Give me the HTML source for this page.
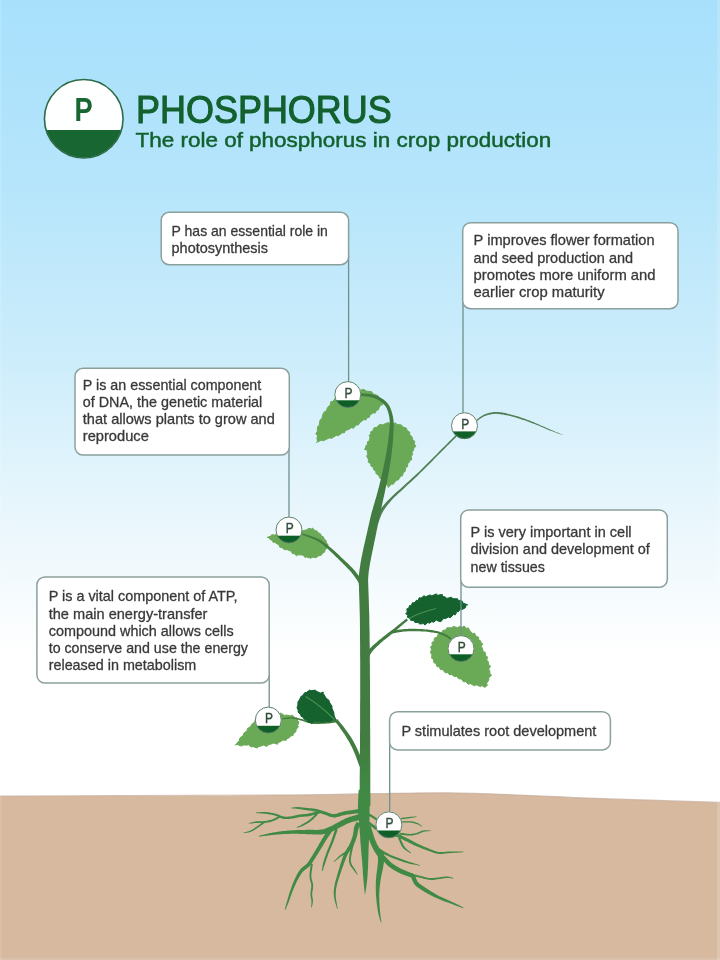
<!DOCTYPE html>
<html><head><meta charset="utf-8"><title>Phosphorus</title>
<style>
html,body{margin:0;padding:0;background:#fff;}
body{width:720px;height:960px;overflow:hidden;font-family:"Liberation Sans",sans-serif;}
svg{display:block;font-family:"Liberation Sans",sans-serif;}
</style></head><body>
<svg width="720" height="960" viewBox="0 0 720 960">
<defs>
<linearGradient id="sky" gradientUnits="userSpaceOnUse" x1="0" y1="0" x2="0" y2="820">
<stop offset="0" stop-color="#a8e0fc"/>
<stop offset="0.22" stop-color="#b5e5fb"/>
<stop offset="0.44" stop-color="#cdedfb"/>
<stop offset="0.60" stop-color="#e5f5fc"/>
<stop offset="0.69" stop-color="#f1f9fd"/>
<stop offset="0.76" stop-color="#fafdfe"/>
<stop offset="0.80" stop-color="#ffffff"/>
<stop offset="1" stop-color="#ffffff"/>
</linearGradient>
</defs>
<rect x="0" y="0" width="720" height="820" fill="url(#sky)"/>
<path d="M0,796 C120,795.8 230,795.6 310,794.8 C370,794 410,792.6 445,792.8 C490,793.2 540,796 580,797.8 C630,799.8 680,801.2 720,802.4 L720,960 L0,960Z" fill="#d6b99f"/>
<path d="M0,796 C120,795.8 230,795.6 310,794.8 C370,794 410,792.6 445,792.8 C490,793.2 540,796 580,797.8 C630,799.8 680,801.2 720,802.4" fill="none" stroke="#c4ad9c" stroke-width="1.2" opacity="0.7"/>
<rect x="717" y="0" width="3" height="960" fill="#fff" opacity="0.16"/><rect x="0" y="0" width="1.5" height="960" fill="#fff" opacity="0.14"/><rect x="0" y="958" width="720" height="2" fill="#fff" opacity="0.14"/>
<defs><filter id="bl" x="-2%" y="-2%" width="104%" height="104%"><feGaussianBlur stdDeviation="0.45"/></filter></defs>
<g filter="url(#bl)">
<path d="M358.7,789.8 L358.6,791.1 L358.5,792.7 L358.4,794.6 L358.3,796.8 L358.2,799.1 L358.1,801.5 L358.0,803.8 L358.0,806.0 L358.0,808.1 L358.1,810.2 L358.2,812.2 L358.4,814.3 L358.5,816.3 L358.7,818.3 L358.9,820.3 L359.0,822.1 L359.1,824.0 L359.3,825.8 L359.4,827.6 L359.6,829.3 L359.7,831.1 L359.8,832.7 L360.0,834.4 L360.1,836.1 L360.2,837.8 L360.3,839.4 L360.4,841.0 L360.5,842.6 L360.6,844.2 L360.8,845.8 L360.9,847.5 L361.0,849.1 L361.1,850.7 L361.3,852.3 L361.4,854.0 L361.6,855.6 L361.8,857.2 L361.9,858.8 L362.1,860.4 L362.2,862.1 L362.3,863.8 L362.4,865.6 L362.6,867.4 L362.7,869.2 L362.8,871.0 L362.9,872.8 L363.0,874.4 L363.1,876.0 L363.2,877.4 L363.3,878.8 L363.4,880.1 L363.6,881.4 L363.7,882.6 L363.8,883.7 L363.9,884.9 L364.0,886.0 L364.1,887.1 L364.2,888.3 L364.3,889.5 L364.5,890.6 L364.6,891.7 L364.7,892.6 L364.7,893.4 L364.8,894.0 L365.2,894.0 L365.3,893.4 L365.4,892.6 L365.6,891.7 L365.7,890.6 L365.9,889.5 L366.1,888.3 L366.2,887.2 L366.4,886.0 L366.5,884.9 L366.7,883.8 L366.8,882.6 L367.0,881.4 L367.1,880.1 L367.3,878.8 L367.4,877.5 L367.5,876.0 L367.6,874.4 L367.7,872.8 L367.8,871.0 L367.9,869.2 L368.0,867.3 L368.1,865.5 L368.1,863.7 L368.2,861.9 L368.3,860.2 L368.3,858.6 L368.4,856.9 L368.4,855.3 L368.5,853.7 L368.5,852.1 L368.5,850.5 L368.6,848.9 L368.7,847.3 L368.7,845.7 L368.8,844.1 L368.9,842.5 L368.9,840.9 L369.0,839.3 L369.0,837.6 L369.1,835.9 L369.1,834.2 L369.2,832.5 L369.2,830.8 L369.3,829.0 L369.3,827.3 L369.3,825.5 L369.4,823.7 L369.4,821.9 L369.4,819.9 L369.5,818.0 L369.5,816.0 L369.5,814.0 L369.5,811.9 L369.6,809.9 L369.6,808.0 L369.6,806.0 L369.6,804.0 L369.6,801.7 L369.6,799.4 L369.7,797.2 L369.7,795.0 L369.7,793.1 L369.7,791.4 L369.7,790.2Z" fill="#3f8a45"/>
<path d="M359.8,808.9 L359.7,808.9 L359.7,808.9 L359.5,809.0 L359.3,809.0 L359.0,809.0 L358.6,809.1 L358.0,809.2 L357.1,809.3 L356.0,809.5 L354.6,809.7 L353.0,809.9 L351.3,810.2 L349.5,810.4 L347.7,810.7 L346.0,811.0 L344.3,811.3 L342.8,811.7 L341.3,812.2 L339.9,812.6 L338.5,813.1 L337.3,813.5 L336.1,813.8 L334.9,814.1 L333.9,814.2 L332.9,814.1 L331.9,813.9 L330.9,813.7 L329.9,813.3 L328.8,812.9 L327.7,812.5 L326.5,812.1 L325.4,811.7 L324.2,811.3 L323.1,811.0 L321.9,810.6 L320.8,810.2 L319.6,809.9 L318.5,809.6 L317.3,809.2 L316.1,809.0 L314.9,808.8 L313.7,808.6 L312.6,808.5 L311.4,808.3 L310.3,808.2 L309.2,808.2 L308.1,808.1 L306.9,808.0 L305.8,807.8 L304.6,807.7 L303.4,807.6 L302.3,807.4 L301.1,807.3 L300.0,807.2 L298.9,807.1 L297.9,807.1 L296.9,807.1 L295.9,807.1 L295.0,807.2 L294.1,807.3 L293.3,807.4 L292.6,807.5 L292.0,807.6 L291.5,807.6 L291.5,808.4 L292.0,808.4 L292.6,808.5 L293.3,808.5 L294.1,808.6 L295.0,808.6 L295.9,808.7 L296.8,808.8 L297.7,808.9 L298.7,809.0 L299.8,809.2 L300.9,809.3 L302.0,809.5 L303.2,809.7 L304.3,809.9 L305.5,810.1 L306.7,810.2 L307.8,810.4 L308.9,810.6 L310.0,810.7 L311.2,810.8 L312.3,811.0 L313.3,811.2 L314.4,811.4 L315.5,811.6 L316.6,811.9 L317.7,812.2 L318.8,812.6 L319.9,813.0 L321.0,813.4 L322.2,813.8 L323.3,814.2 L324.4,814.5 L325.5,814.9 L326.5,815.3 L327.6,815.8 L328.7,816.3 L329.9,816.7 L331.2,817.1 L332.5,817.3 L333.9,817.4 L335.4,817.4 L336.8,817.1 L338.2,816.8 L339.6,816.4 L341.0,815.9 L342.3,815.5 L343.7,815.2 L345.1,814.9 L346.6,814.6 L348.3,814.4 L350.0,814.2 L351.8,813.9 L353.5,813.7 L355.1,813.6 L356.5,813.4 L357.7,813.3 L358.5,813.2 L359.1,813.1 L359.5,813.1 L359.7,813.1 L359.8,813.1 L359.9,813.1 L360.0,813.1 L360.2,813.1Z" fill="#3f8a45"/>
<path d="M319.7,810.7 L318.8,810.9 L317.5,811.3 L316.1,811.7 L314.5,812.1 L312.9,812.6 L311.2,813.0 L309.7,813.3 L308.4,813.6 L307.2,813.8 L306.0,814.0 L304.9,814.1 L303.9,814.1 L302.8,814.2 L301.7,814.3 L300.6,814.4 L299.4,814.6 L298.2,814.8 L297.1,815.0 L295.9,815.3 L294.7,815.6 L293.6,815.8 L292.5,816.1 L291.5,816.3 L290.5,816.4 L289.5,816.5 L288.6,816.6 L287.7,816.7 L286.8,816.7 L286.0,816.7 L285.2,816.7 L284.3,816.6 L283.5,816.5 L282.7,816.3 L281.9,816.0 L281.1,815.7 L280.3,815.4 L279.4,815.0 L278.4,814.6 L277.4,814.2 L276.4,813.9 L275.3,813.6 L274.3,813.4 L273.2,813.1 L272.0,812.9 L270.9,812.7 L269.7,812.5 L268.5,812.3 L267.2,812.2 L265.8,812.1 L264.3,812.1 L262.7,812.1 L261.2,812.1 L259.6,812.2 L258.3,812.2 L257.2,812.3 L256.3,812.3 L256.3,813.1 L257.1,813.2 L258.3,813.2 L259.6,813.3 L261.1,813.4 L262.7,813.5 L264.2,813.7 L265.7,813.8 L267.0,814.0 L268.2,814.2 L269.4,814.4 L270.5,814.6 L271.6,814.8 L272.7,815.1 L273.8,815.3 L274.8,815.6 L275.8,815.9 L276.7,816.2 L277.6,816.6 L278.5,817.0 L279.4,817.4 L280.2,817.8 L281.1,818.2 L282.1,818.5 L283.1,818.7 L284.0,818.9 L285.0,819.0 L285.9,819.0 L286.9,819.1 L287.8,819.0 L288.7,819.0 L289.7,818.9 L290.7,818.8 L291.8,818.6 L293.0,818.4 L294.1,818.2 L295.3,818.0 L296.4,817.7 L297.6,817.4 L298.7,817.2 L299.8,817.0 L300.8,816.9 L301.9,816.8 L303.0,816.8 L304.0,816.7 L305.1,816.6 L306.3,816.5 L307.5,816.4 L308.8,816.2 L310.3,815.9 L311.9,815.5 L313.5,815.1 L315.2,814.7 L316.8,814.3 L318.2,813.9 L319.5,813.5 L320.3,813.3Z" fill="#3f8a45"/>
<path d="M279.5,815.6 L278.9,815.9 L278.2,816.4 L277.3,816.9 L276.3,817.4 L275.3,818.0 L274.2,818.5 L273.2,819.0 L272.2,819.4 L271.2,819.7 L270.1,820.0 L268.9,820.2 L267.8,820.5 L266.6,820.7 L265.5,820.9 L264.4,821.0 L263.4,821.2 L262.5,821.2 L261.6,821.3 L260.7,821.3 L259.8,821.2 L259.0,821.2 L258.1,821.2 L257.2,821.2 L256.2,821.3 L255.2,821.5 L254.2,821.7 L253.1,822.0 L252.1,822.2 L251.1,822.5 L250.2,822.8 L249.5,823.0 L248.9,823.2 L249.1,823.8 L249.6,823.8 L250.4,823.6 L251.3,823.5 L252.3,823.4 L253.4,823.2 L254.4,823.1 L255.4,823.0 L256.4,822.9 L257.2,822.9 L258.0,822.9 L258.9,823.0 L259.7,823.0 L260.6,823.1 L261.6,823.1 L262.6,823.1 L263.6,823.0 L264.7,822.9 L265.8,822.8 L267.0,822.6 L268.2,822.4 L269.4,822.2 L270.6,821.9 L271.7,821.6 L272.8,821.2 L273.9,820.8 L275.1,820.3 L276.2,819.7 L277.3,819.2 L278.3,818.6 L279.2,818.1 L279.9,817.7 L280.5,817.4Z" fill="#3f8a45"/>
<path d="M264.0,821.3 L263.5,821.7 L262.9,822.2 L262.1,822.7 L261.3,823.3 L260.4,824.0 L259.4,824.7 L258.5,825.3 L257.7,825.9 L256.8,826.5 L255.9,827.1 L255.0,827.8 L254.1,828.4 L253.2,829.0 L252.3,829.5 L251.4,830.0 L250.5,830.5 L249.6,830.8 L248.7,831.2 L247.6,831.5 L246.6,831.8 L245.7,832.0 L244.8,832.3 L244.1,832.5 L243.5,832.6 L243.7,833.2 L244.2,833.1 L245.0,833.0 L245.9,832.9 L246.8,832.8 L247.9,832.6 L249.0,832.4 L250.1,832.1 L251.1,831.7 L252.0,831.3 L253.0,830.8 L254.0,830.3 L254.9,829.7 L255.9,829.1 L256.8,828.4 L257.7,827.8 L258.5,827.3 L259.4,826.7 L260.4,826.0 L261.3,825.3 L262.2,824.7 L263.1,824.1 L263.9,823.5 L264.5,823.0 L265.0,822.7Z" fill="#3f8a45"/>
<path d="M316.3,813.3 L315.8,813.8 L315.1,814.5 L314.3,815.3 L313.5,816.2 L312.5,817.1 L311.6,818.0 L310.7,818.8 L309.8,819.6 L309.0,820.2 L308.1,820.8 L307.2,821.4 L306.3,822.0 L305.4,822.5 L304.5,823.1 L303.6,823.6 L302.8,824.0 L302.0,824.5 L301.1,825.0 L300.2,825.4 L299.4,825.9 L298.6,826.3 L297.8,826.6 L297.2,826.9 L296.8,827.2 L297.0,827.8 L297.5,827.7 L298.2,827.5 L299.0,827.2 L299.8,827.0 L300.8,826.7 L301.7,826.3 L302.7,826.0 L303.6,825.6 L304.5,825.1 L305.4,824.6 L306.3,824.1 L307.3,823.6 L308.2,823.0 L309.1,822.4 L310.1,821.7 L311.0,821.0 L311.9,820.3 L312.9,819.4 L313.9,818.5 L314.8,817.6 L315.7,816.7 L316.5,815.9 L317.2,815.2 L317.7,814.7Z" fill="#3f8a45"/>
<path d="M360.1,813.6 L359.9,813.7 L359.6,813.8 L359.3,813.9 L358.9,814.1 L358.4,814.2 L357.9,814.4 L357.3,814.6 L356.6,814.8 L355.8,815.1 L354.8,815.4 L353.7,815.7 L352.4,816.0 L351.2,816.4 L349.9,816.8 L348.6,817.3 L347.3,817.7 L346.1,818.3 L344.9,818.8 L343.7,819.4 L342.5,820.0 L341.4,820.6 L340.3,821.2 L339.2,821.8 L338.1,822.4 L336.9,823.0 L335.8,823.6 L334.7,824.2 L333.6,824.8 L332.5,825.4 L331.4,825.9 L330.4,826.4 L329.3,826.9 L328.2,827.3 L327.2,827.8 L326.2,828.2 L325.3,828.5 L324.3,828.9 L323.3,829.2 L322.2,829.4 L321.0,829.6 L319.7,829.8 L318.4,829.8 L316.9,829.9 L315.3,829.9 L313.7,829.8 L312.0,829.8 L310.3,829.8 L308.6,829.8 L306.9,829.8 L305.1,829.9 L303.3,829.9 L301.5,829.9 L299.7,830.0 L297.8,830.0 L296.0,830.1 L294.1,830.2 L292.3,830.3 L290.4,830.4 L288.5,830.6 L286.6,830.8 L284.8,830.9 L283.0,831.1 L281.2,831.3 L279.6,831.5 L278.0,831.7 L276.6,831.9 L275.2,832.2 L273.8,832.4 L272.5,832.6 L271.3,832.9 L270.0,833.1 L268.7,833.4 L267.4,833.7 L266.0,834.0 L264.5,834.4 L263.2,834.7 L261.8,835.1 L260.7,835.4 L259.7,835.6 L258.9,835.8 L259.1,836.6 L259.8,836.5 L260.9,836.4 L262.1,836.2 L263.4,836.1 L264.8,835.9 L266.3,835.7 L267.7,835.5 L269.1,835.4 L270.3,835.2 L271.6,835.1 L272.9,834.9 L274.2,834.8 L275.5,834.7 L276.9,834.5 L278.3,834.4 L279.8,834.3 L281.5,834.2 L283.2,834.1 L285.0,834.0 L286.8,834.0 L288.7,833.9 L290.6,833.8 L292.4,833.8 L294.3,833.8 L296.0,833.8 L297.9,833.8 L299.7,833.9 L301.5,834.0 L303.3,834.0 L305.1,834.1 L306.9,834.2 L308.6,834.2 L310.3,834.3 L311.9,834.3 L313.6,834.4 L315.2,834.5 L316.9,834.5 L318.5,834.5 L320.1,834.5 L321.6,834.4 L323.0,834.2 L324.4,833.9 L325.6,833.7 L326.8,833.3 L328.0,832.9 L329.1,832.5 L330.2,832.1 L331.3,831.7 L332.5,831.2 L333.7,830.7 L334.9,830.1 L336.0,829.5 L337.2,828.9 L338.3,828.3 L339.4,827.8 L340.5,827.2 L341.7,826.6 L342.8,826.0 L343.9,825.4 L345.1,824.8 L346.1,824.3 L347.2,823.8 L348.3,823.3 L349.3,822.9 L350.4,822.5 L351.5,822.1 L352.7,821.8 L353.9,821.5 L355.1,821.2 L356.2,820.9 L357.3,820.6 L358.2,820.4 L359.0,820.2 L359.6,820.0 L360.2,819.8 L360.6,819.7 L361.0,819.6 L361.4,819.5 L361.6,819.4 L361.9,819.4Z" fill="#3f8a45"/>
<path d="M329.7,827.3 L329.2,828.0 L328.5,829.0 L327.7,830.3 L326.8,831.6 L325.8,833.1 L324.9,834.5 L324.0,835.9 L323.2,837.2 L322.4,838.4 L321.7,839.6 L321.0,840.7 L320.4,841.9 L319.7,843.0 L319.1,844.1 L318.4,845.3 L317.8,846.4 L317.1,847.5 L316.4,848.7 L315.8,849.8 L315.1,851.0 L314.4,852.1 L313.7,853.2 L313.1,854.3 L312.4,855.4 L311.7,856.5 L311.1,857.6 L310.4,858.6 L309.8,859.6 L309.2,860.6 L308.6,861.5 L307.9,862.4 L307.2,863.3 L306.5,864.0 L305.7,864.7 L304.8,865.4 L303.9,866.1 L302.9,866.9 L301.9,867.7 L301.0,868.6 L300.1,869.7 L299.2,870.8 L298.5,871.9 L297.8,873.1 L297.1,874.3 L296.5,875.5 L295.9,876.7 L295.3,878.0 L294.7,879.2 L294.1,880.5 L293.5,881.9 L292.9,883.3 L292.4,884.7 L291.9,886.1 L291.4,887.5 L290.9,888.9 L290.4,890.3 L289.9,891.7 L289.4,893.1 L289.0,894.5 L288.6,895.9 L288.2,897.3 L287.8,898.7 L287.4,900.0 L287.0,901.2 L286.7,902.4 L286.4,903.7 L286.0,904.9 L285.7,906.1 L285.4,907.2 L285.2,908.1 L284.9,909.0 L284.8,909.6 L285.4,909.8 L285.7,909.2 L286.0,908.4 L286.4,907.5 L286.8,906.5 L287.3,905.3 L287.8,904.2 L288.3,903.0 L288.8,901.8 L289.2,900.6 L289.7,899.3 L290.1,898.0 L290.6,896.6 L291.1,895.2 L291.6,893.8 L292.1,892.5 L292.6,891.1 L293.2,889.8 L293.7,888.4 L294.3,887.1 L294.9,885.7 L295.5,884.4 L296.1,883.1 L296.7,881.8 L297.3,880.6 L298.0,879.4 L298.6,878.2 L299.3,877.0 L300.0,875.9 L300.6,874.8 L301.3,873.8 L302.0,872.8 L302.7,871.9 L303.5,871.1 L304.3,870.4 L305.2,869.7 L306.1,869.0 L307.1,868.3 L308.1,867.5 L309.0,866.7 L310.0,865.7 L310.8,864.7 L311.6,863.7 L312.3,862.7 L313.0,861.6 L313.6,860.6 L314.3,859.5 L314.9,858.5 L315.6,857.4 L316.3,856.3 L317.0,855.2 L317.7,854.1 L318.4,853.0 L319.1,851.8 L319.8,850.7 L320.5,849.6 L321.2,848.4 L321.9,847.3 L322.6,846.2 L323.2,845.0 L323.9,843.9 L324.5,842.8 L325.2,841.7 L325.9,840.5 L326.6,839.4 L327.4,838.2 L328.4,836.8 L329.3,835.4 L330.3,834.0 L331.2,832.7 L332.1,831.5 L332.8,830.5 L333.3,829.7Z" fill="#3f8a45"/>
<path d="M310.8,863.9 L310.7,864.8 L310.5,866.1 L310.3,867.7 L310.0,869.5 L309.8,871.3 L309.6,873.1 L309.5,874.8 L309.5,876.3 L309.6,877.7 L309.8,879.0 L310.1,880.2 L310.4,881.3 L310.7,882.3 L311.0,883.3 L311.2,884.3 L311.3,885.3 L311.3,886.4 L311.2,887.5 L311.1,888.6 L310.9,889.8 L310.8,890.9 L310.6,892.1 L310.5,893.2 L310.5,894.3 L310.5,895.4 L310.6,896.4 L310.8,897.3 L310.9,898.2 L311.1,899.1 L311.3,899.9 L311.4,900.7 L311.5,901.5 L311.5,902.3 L311.4,903.1 L311.4,904.0 L311.3,904.9 L311.2,905.7 L311.1,906.4 L311.1,907.0 L311.0,907.4 L311.6,907.6 L311.7,907.1 L311.9,906.5 L312.1,905.8 L312.3,905.0 L312.5,904.2 L312.7,903.3 L312.9,902.4 L312.9,901.5 L312.9,900.6 L312.9,899.7 L312.7,898.8 L312.6,897.9 L312.4,897.0 L312.3,896.1 L312.2,895.2 L312.1,894.3 L312.2,893.3 L312.3,892.3 L312.5,891.2 L312.7,890.0 L312.9,888.9 L313.0,887.7 L313.1,886.5 L313.1,885.3 L313.0,884.1 L312.8,882.9 L312.5,881.8 L312.2,880.7 L311.9,879.7 L311.6,878.6 L311.4,877.5 L311.3,876.3 L311.4,874.9 L311.5,873.3 L311.7,871.5 L312.0,869.7 L312.2,868.0 L312.5,866.4 L312.7,865.1 L312.8,864.1Z" fill="#3f8a45"/>
<path d="M335.3,828.6 L334.9,829.6 L334.5,831.0 L334.0,832.6 L333.4,834.4 L332.8,836.3 L332.2,838.1 L331.6,839.9 L331.0,841.5 L330.5,842.9 L329.9,844.3 L329.3,845.7 L328.8,847.0 L328.2,848.4 L327.6,849.7 L327.1,851.0 L326.6,852.4 L326.1,853.8 L325.6,855.2 L325.1,856.7 L324.6,858.1 L324.2,859.5 L323.8,860.8 L323.4,862.1 L323.1,863.3 L322.8,864.5 L322.6,865.7 L322.4,866.8 L322.3,867.8 L322.1,868.8 L322.0,869.6 L321.9,870.4 L321.9,870.9 L322.5,871.1 L322.7,870.5 L322.9,869.9 L323.2,869.0 L323.5,868.1 L323.8,867.1 L324.2,866.1 L324.5,865.0 L324.9,863.9 L325.3,862.7 L325.7,861.4 L326.2,860.1 L326.6,858.8 L327.1,857.4 L327.6,855.9 L328.1,854.5 L328.6,853.2 L329.2,851.9 L329.7,850.6 L330.3,849.2 L330.8,847.9 L331.4,846.6 L332.0,845.2 L332.6,843.8 L333.2,842.3 L333.8,840.7 L334.4,838.9 L335.1,837.0 L335.7,835.2 L336.4,833.4 L336.9,831.8 L337.4,830.4 L337.7,829.4Z" fill="#3f8a45"/>
<path d="M356.9,821.7 L356.7,821.9 L356.5,822.3 L356.2,822.8 L355.8,823.4 L355.4,824.1 L355.0,824.9 L354.6,825.8 L354.3,826.8 L354.0,827.9 L353.8,829.0 L353.7,830.2 L353.5,831.4 L353.3,832.6 L353.2,833.7 L352.9,834.9 L352.7,835.9 L352.4,837.0 L352.0,838.1 L351.6,839.3 L351.2,840.4 L350.7,841.5 L350.3,842.6 L349.8,843.7 L349.3,844.7 L348.9,845.6 L348.4,846.4 L347.8,847.3 L347.2,848.1 L346.7,849.0 L346.1,849.9 L345.5,850.9 L344.9,852.0 L344.4,853.1 L343.9,854.2 L343.5,855.3 L343.0,856.5 L342.6,857.6 L342.2,858.8 L341.8,860.0 L341.4,861.3 L341.0,862.5 L340.5,863.8 L340.1,865.2 L339.7,866.6 L339.3,868.0 L338.9,869.4 L338.4,870.8 L338.0,872.3 L337.6,873.8 L337.1,875.4 L336.6,877.0 L336.2,878.7 L335.7,880.3 L335.3,881.9 L334.9,883.5 L334.6,885.1 L334.4,886.5 L334.2,887.9 L334.0,889.3 L333.8,890.6 L333.8,891.9 L333.7,893.3 L333.8,894.7 L333.9,896.2 L334.2,897.8 L334.5,899.6 L335.0,901.5 L335.5,903.4 L336.0,905.1 L336.5,906.7 L336.9,908.1 L337.2,909.1 L337.8,908.9 L337.6,907.9 L337.3,906.5 L337.0,904.9 L336.7,903.1 L336.3,901.2 L336.0,899.3 L335.8,897.6 L335.7,896.0 L335.7,894.6 L335.7,893.3 L335.8,892.0 L335.9,890.8 L336.0,889.5 L336.2,888.2 L336.5,886.9 L336.8,885.5 L337.1,884.1 L337.5,882.5 L338.0,881.0 L338.5,879.4 L339.0,877.8 L339.6,876.2 L340.1,874.6 L340.6,873.1 L341.1,871.7 L341.5,870.2 L342.0,868.8 L342.5,867.5 L343.0,866.2 L343.5,864.9 L343.9,863.6 L344.4,862.3 L344.9,861.1 L345.3,859.9 L345.8,858.8 L346.2,857.7 L346.7,856.6 L347.1,855.6 L347.6,854.6 L348.1,853.6 L348.6,852.8 L349.2,851.9 L349.7,851.1 L350.4,850.3 L351.0,849.5 L351.6,848.6 L352.3,847.6 L352.9,846.5 L353.4,845.4 L354.0,844.3 L354.5,843.1 L355.0,841.9 L355.5,840.7 L355.9,839.5 L356.3,838.3 L356.7,837.1 L357.1,835.8 L357.4,834.5 L357.6,833.3 L357.8,832.1 L358.0,830.9 L358.3,829.8 L358.5,828.9 L358.7,828.2 L358.9,827.6 L359.2,827.0 L359.6,826.5 L359.9,826.0 L360.2,825.5 L360.6,825.1 L360.9,824.7 L361.1,824.3Z" fill="#3f8a45"/>
<path d="M347.0,850.7 L346.6,851.0 L345.9,851.4 L345.2,851.8 L344.3,852.3 L343.4,852.9 L342.4,853.5 L341.5,854.2 L340.6,854.9 L339.7,855.6 L338.7,856.5 L337.7,857.5 L336.7,858.5 L335.8,859.5 L334.9,860.3 L334.2,861.0 L333.7,861.6 L334.1,862.0 L334.7,861.6 L335.5,860.9 L336.4,860.1 L337.5,859.3 L338.6,858.4 L339.6,857.6 L340.7,856.8 L341.6,856.1 L342.5,855.5 L343.4,855.0 L344.3,854.4 L345.2,853.9 L346.1,853.4 L346.8,852.9 L347.5,852.6 L348.0,852.3Z" fill="#3f8a45"/>
<path d="M352.4,840.8 L352.2,842.0 L351.8,843.7 L351.3,845.8 L350.8,848.0 L350.3,850.3 L349.9,852.6 L349.5,854.6 L349.3,856.3 L349.1,857.6 L349.0,858.8 L349.0,859.8 L349.0,860.7 L349.1,861.5 L349.2,862.3 L349.4,863.1 L349.6,863.9 L349.9,864.7 L350.3,865.5 L350.8,866.2 L351.2,866.9 L351.7,867.5 L352.2,868.2 L352.7,868.8 L353.2,869.4 L353.7,870.1 L354.2,870.9 L354.8,871.6 L355.4,872.4 L355.9,873.1 L356.4,873.7 L356.8,874.3 L357.1,874.7 L357.7,874.3 L357.4,873.9 L357.1,873.3 L356.7,872.6 L356.2,871.8 L355.8,871.0 L355.3,870.1 L354.9,869.3 L354.4,868.6 L354.0,867.9 L353.5,867.2 L353.1,866.6 L352.6,865.9 L352.2,865.3 L351.9,864.7 L351.6,864.0 L351.4,863.3 L351.2,862.6 L351.0,861.9 L350.9,861.3 L350.9,860.6 L350.8,859.8 L350.9,858.9 L351.0,857.8 L351.1,856.5 L351.4,854.9 L351.8,853.0 L352.3,850.8 L352.8,848.5 L353.4,846.2 L353.9,844.2 L354.3,842.5 L354.6,841.2Z" fill="#3f8a45"/>
<path d="M365.3,826.7 L365.4,827.0 L365.5,827.4 L365.7,828.0 L365.8,828.6 L366.0,829.3 L366.2,830.0 L366.5,830.9 L366.8,831.9 L367.1,833.0 L367.5,834.3 L367.9,835.7 L368.4,837.1 L368.8,838.7 L369.4,840.2 L369.9,841.7 L370.4,843.1 L371.0,844.4 L371.5,845.7 L372.1,846.9 L372.7,848.1 L373.3,849.3 L373.9,850.5 L374.5,851.5 L375.2,852.6 L375.8,853.6 L376.5,854.5 L377.2,855.4 L377.9,856.2 L378.5,856.9 L379.0,857.5 L379.4,858.0 L379.7,858.4 L384.3,854.4 L383.9,854.0 L383.4,853.5 L382.9,852.9 L382.3,852.3 L381.7,851.6 L381.1,850.9 L380.6,850.2 L380.0,849.4 L379.5,848.6 L378.9,847.6 L378.4,846.6 L377.8,845.5 L377.2,844.4 L376.6,843.3 L376.1,842.1 L375.6,840.9 L375.1,839.7 L374.6,838.4 L374.1,836.9 L373.6,835.5 L373.2,834.0 L372.8,832.7 L372.4,831.4 L372.0,830.3 L371.7,829.4 L371.5,828.5 L371.3,827.8 L371.1,827.2 L371.0,826.6 L370.9,826.1 L370.8,825.7 L370.7,825.3Z" fill="#3f8a45"/>
<path d="M377.5,853.3 L377.6,853.8 L377.6,854.6 L377.7,855.4 L377.8,856.3 L377.9,857.3 L377.9,858.2 L378.0,859.1 L378.0,860.0 L378.0,860.8 L378.0,861.5 L377.9,862.3 L377.9,863.1 L377.8,863.9 L377.7,864.8 L377.6,865.7 L377.5,866.8 L377.4,867.9 L377.2,869.1 L377.0,870.4 L376.8,871.8 L376.6,873.2 L376.4,874.7 L376.3,876.2 L376.1,877.7 L376.0,879.3 L375.9,880.8 L375.9,882.4 L375.8,884.1 L375.8,885.7 L375.8,887.4 L375.8,889.0 L375.8,890.7 L375.9,892.3 L375.9,893.9 L376.0,895.6 L376.2,897.2 L376.3,898.8 L376.5,900.4 L376.6,901.9 L376.8,903.4 L377.0,904.9 L377.2,906.3 L377.4,907.8 L377.6,909.2 L377.8,910.5 L378.0,911.8 L378.3,913.1 L378.5,914.3 L378.8,915.6 L379.1,916.8 L379.5,918.0 L379.8,919.2 L380.2,920.2 L380.5,921.2 L380.7,922.0 L380.9,922.6 L381.5,922.4 L381.4,921.8 L381.3,921.0 L381.1,920.0 L380.9,918.9 L380.8,917.7 L380.6,916.5 L380.4,915.3 L380.3,914.1 L380.2,912.8 L380.0,911.6 L379.9,910.2 L379.8,908.9 L379.7,907.5 L379.5,906.1 L379.5,904.7 L379.4,903.2 L379.3,901.7 L379.3,900.2 L379.3,898.6 L379.2,897.0 L379.2,895.5 L379.3,893.9 L379.3,892.3 L379.4,890.7 L379.5,889.2 L379.7,887.6 L379.8,886.0 L380.0,884.4 L380.2,882.8 L380.4,881.3 L380.7,879.7 L380.9,878.3 L381.1,876.9 L381.4,875.5 L381.7,874.1 L382.0,872.7 L382.3,871.4 L382.6,870.1 L382.8,868.8 L383.1,867.6 L383.3,866.5 L383.4,865.5 L383.6,864.6 L383.7,863.7 L383.8,862.8 L383.9,861.9 L384.0,861.0 L384.0,860.0 L384.0,859.0 L384.0,857.9 L383.9,856.8 L383.8,855.8 L383.7,854.8 L383.6,854.0 L383.5,853.3 L383.5,852.7Z" fill="#3f8a45"/>
<path d="M377.3,854.6 L377.8,855.1 L378.4,855.7 L379.1,856.5 L379.9,857.4 L380.8,858.4 L381.7,859.3 L382.5,860.3 L383.3,861.1 L384.1,861.8 L384.8,862.6 L385.5,863.3 L386.2,864.1 L387.0,864.9 L387.9,865.7 L388.8,866.4 L389.7,867.2 L390.8,868.0 L391.9,868.7 L393.1,869.4 L394.3,870.2 L395.5,870.9 L396.7,871.6 L397.9,872.2 L399.1,872.8 L400.3,873.4 L401.6,874.0 L402.9,874.5 L404.2,875.0 L405.4,875.4 L406.5,875.8 L407.5,876.2 L408.4,876.5 L409.2,876.8 L409.9,877.1 L410.4,877.2 L410.7,877.3 L410.7,877.3 L410.7,877.3 L410.8,877.3 L411.1,877.6 L411.4,878.0 L411.7,878.6 L412.0,879.5 L412.4,880.4 L412.9,881.5 L413.4,882.6 L414.0,883.8 L414.8,884.8 L415.7,885.7 L416.6,886.5 L417.5,887.3 L418.5,888.0 L419.5,888.6 L420.5,889.3 L421.5,889.9 L422.5,890.6 L423.6,891.2 L424.7,891.9 L425.8,892.6 L427.0,893.3 L428.2,893.9 L429.4,894.6 L430.6,895.2 L431.8,895.8 L433.0,896.4 L434.1,896.9 L435.3,897.5 L436.5,898.0 L437.6,898.6 L438.8,899.1 L440.0,899.6 L441.2,900.0 L442.3,900.5 L443.5,901.0 L444.7,901.4 L445.9,901.8 L447.0,902.2 L448.2,902.6 L449.3,903.0 L450.3,903.4 L451.3,903.8 L452.3,904.1 L453.2,904.5 L454.2,904.9 L455.0,905.2 L455.9,905.5 L456.8,905.9 L457.6,906.2 L458.4,906.5 L459.3,906.8 L460.1,907.1 L460.9,907.4 L461.7,907.7 L462.4,907.9 L462.9,908.1 L463.4,908.3 L463.6,907.7 L463.2,907.5 L462.7,907.2 L462.1,906.9 L461.4,906.5 L460.6,906.1 L459.8,905.6 L459.0,905.2 L458.2,904.8 L457.4,904.4 L456.6,904.0 L455.7,903.6 L454.9,903.2 L454.0,902.8 L453.0,902.3 L452.1,901.9 L451.1,901.4 L450.1,901.0 L449.0,900.5 L447.9,900.0 L446.7,899.6 L445.6,899.1 L444.5,898.6 L443.4,898.1 L442.2,897.6 L441.1,897.0 L440.0,896.5 L438.9,895.9 L437.8,895.3 L436.7,894.7 L435.6,894.1 L434.5,893.4 L433.4,892.8 L432.3,892.1 L431.2,891.5 L430.1,890.8 L428.9,890.1 L427.8,889.3 L426.8,888.6 L425.7,887.9 L424.7,887.2 L423.7,886.5 L422.7,885.9 L421.7,885.3 L420.8,884.6 L420.0,884.0 L419.2,883.4 L418.5,882.8 L418.0,882.2 L417.5,881.5 L417.1,880.8 L416.7,879.9 L416.3,878.9 L416.0,877.9 L415.6,876.9 L415.1,875.9 L414.5,875.0 L413.9,874.3 L413.3,873.8 L412.6,873.4 L412.0,873.1 L411.5,873.0 L411.1,872.9 L410.6,872.7 L410.0,872.5 L409.1,872.1 L408.1,871.7 L407.0,871.2 L405.8,870.8 L404.6,870.3 L403.4,869.8 L402.2,869.3 L401.1,868.8 L400.0,868.2 L398.9,867.6 L397.7,867.0 L396.6,866.3 L395.4,865.6 L394.4,864.9 L393.4,864.3 L392.5,863.6 L391.6,863.0 L390.9,862.3 L390.2,861.6 L389.5,860.9 L388.8,860.2 L388.1,859.5 L387.4,858.7 L386.7,857.9 L385.9,857.1 L385.0,856.2 L384.2,855.3 L383.3,854.3 L382.5,853.4 L381.8,852.6 L381.2,852.0 L380.7,851.4Z" fill="#3f8a45"/>
<path d="M410.7,875.7 L411.6,875.9 L412.7,876.1 L414.1,876.4 L415.6,876.8 L417.2,877.1 L418.7,877.5 L420.2,877.8 L421.6,878.1 L422.8,878.4 L423.9,878.7 L425.1,878.9 L426.2,879.2 L427.3,879.5 L428.4,879.7 L429.6,879.8 L430.8,879.9 L432.0,879.9 L433.2,879.9 L434.4,879.7 L435.6,879.6 L436.7,879.4 L437.9,879.2 L439.0,879.1 L440.0,878.9 L441.0,878.8 L442.0,878.7 L442.9,878.5 L443.8,878.3 L444.6,878.2 L445.5,878.1 L446.3,878.0 L447.1,877.9 L447.9,878.0 L448.8,878.0 L449.8,878.1 L450.7,878.3 L451.6,878.4 L452.4,878.5 L453.0,878.6 L453.5,878.7 L453.7,878.1 L453.2,878.0 L452.5,877.8 L451.8,877.5 L450.9,877.2 L450.0,877.0 L449.0,876.7 L448.1,876.6 L447.1,876.5 L446.2,876.4 L445.3,876.5 L444.4,876.6 L443.5,876.7 L442.6,876.9 L441.7,877.0 L440.8,877.1 L439.8,877.3 L438.7,877.4 L437.6,877.5 L436.5,877.7 L435.3,877.8 L434.2,878.0 L433.1,878.1 L431.9,878.1 L430.8,878.1 L429.8,878.0 L428.7,877.9 L427.7,877.7 L426.6,877.4 L425.5,877.2 L424.4,876.9 L423.2,876.6 L422.0,876.3 L420.7,876.0 L419.2,875.6 L417.6,875.2 L416.1,874.8 L414.6,874.4 L413.2,874.0 L412.1,873.7 L411.3,873.5Z" fill="#3f8a45"/>
<path d="M375.8,849.1 L376.7,849.6 L377.8,850.3 L379.2,851.1 L380.7,852.1 L382.3,853.0 L383.9,854.0 L385.5,854.9 L387.0,855.6 L388.4,856.3 L389.8,856.9 L391.1,857.5 L392.5,858.1 L393.9,858.6 L395.2,859.1 L396.6,859.6 L397.9,860.1 L399.3,860.6 L400.7,861.0 L402.1,861.5 L403.4,861.9 L404.8,862.4 L406.2,862.8 L407.6,863.2 L409.0,863.5 L410.4,863.9 L412.0,864.2 L413.6,864.5 L415.1,864.8 L416.6,865.1 L418.0,865.3 L419.1,865.5 L419.9,865.7 L420.1,865.1 L419.2,864.9 L418.2,864.5 L416.9,864.2 L415.4,863.7 L413.9,863.3 L412.3,862.8 L410.8,862.3 L409.4,861.9 L408.1,861.4 L406.8,861.0 L405.4,860.5 L404.1,860.1 L402.7,859.6 L401.4,859.1 L400.0,858.6 L398.7,858.1 L397.3,857.6 L396.0,857.1 L394.6,856.6 L393.3,856.0 L392.0,855.5 L390.7,854.9 L389.3,854.2 L388.0,853.6 L386.6,852.8 L385.1,851.9 L383.5,851.0 L382.0,850.0 L380.5,849.0 L379.2,848.2 L378.0,847.4 L377.2,846.9Z" fill="#3f8a45"/>
<path d="M367.4,815.0 L367.8,815.3 L368.3,815.5 L368.9,815.9 L369.6,816.3 L370.3,816.7 L371.0,817.1 L371.8,817.5 L372.4,817.9 L373.1,818.3 L373.8,818.8 L374.5,819.3 L375.2,819.8 L375.9,820.3 L376.5,820.7 L377.0,821.0 L377.4,821.3 L378.6,819.7 L378.2,819.4 L377.7,819.0 L377.1,818.6 L376.4,818.1 L375.7,817.6 L375.0,817.0 L374.3,816.5 L373.6,816.1 L372.9,815.6 L372.2,815.2 L371.5,814.7 L370.8,814.3 L370.1,813.9 L369.5,813.5 L369.0,813.2 L368.6,813.0Z" fill="#3f8a45"/>
<path d="M367.1,823.7 L367.5,824.0 L368.0,824.3 L368.7,824.8 L369.4,825.2 L370.1,825.7 L370.8,826.2 L371.5,826.7 L372.2,827.1 L372.7,827.5 L373.2,827.9 L373.8,828.4 L374.3,828.8 L374.9,829.3 L375.7,829.8 L376.5,830.3 L377.4,830.8 L378.5,831.2 L379.6,831.7 L380.9,832.2 L382.2,832.7 L383.6,833.1 L384.9,833.6 L386.3,834.0 L387.6,834.4 L388.9,834.8 L390.4,835.3 L391.9,835.7 L393.4,836.0 L394.8,836.4 L396.1,836.7 L397.1,837.0 L397.9,837.2 L398.7,834.0 L397.9,833.9 L396.8,833.6 L395.5,833.3 L394.1,833.0 L392.7,832.7 L391.2,832.3 L389.7,831.9 L388.4,831.6 L387.1,831.2 L385.8,830.8 L384.5,830.4 L383.1,829.9 L381.9,829.5 L380.7,829.1 L379.6,828.6 L378.6,828.2 L377.8,827.8 L377.1,827.5 L376.6,827.1 L376.0,826.7 L375.5,826.2 L375.0,825.8 L374.4,825.3 L373.8,824.9 L373.1,824.4 L372.4,823.9 L371.7,823.4 L371.0,822.8 L370.3,822.4 L369.7,821.9 L369.2,821.5 L368.9,821.3Z" fill="#3f8a45"/>
<path d="M395.3,835.9 L396.2,836.4 L397.4,837.0 L398.8,837.7 L400.4,838.5 L402.1,839.3 L403.7,840.1 L405.3,840.9 L406.7,841.5 L407.9,842.1 L409.0,842.7 L410.1,843.3 L411.2,843.8 L412.3,844.3 L413.4,844.9 L414.6,845.4 L415.8,846.0 L417.1,846.5 L418.4,847.1 L419.8,847.6 L421.2,848.2 L422.6,848.7 L424.0,849.3 L425.4,849.8 L426.8,850.3 L428.2,850.8 L429.5,851.3 L430.9,851.8 L432.3,852.3 L433.7,852.8 L435.1,853.2 L436.5,853.5 L438.0,853.7 L439.4,853.9 L440.7,853.9 L442.0,853.9 L443.4,853.7 L444.7,853.6 L446.0,853.5 L447.4,853.3 L448.9,853.2 L450.7,853.1 L452.6,853.0 L454.7,852.8 L456.8,852.7 L458.8,852.5 L460.6,852.4 L462.2,852.3 L463.3,852.2 L463.3,851.6 L462.2,851.6 L460.6,851.6 L458.8,851.6 L456.8,851.6 L454.6,851.6 L452.6,851.6 L450.6,851.6 L448.9,851.6 L447.3,851.6 L445.9,851.7 L444.5,851.9 L443.2,852.0 L442.0,852.0 L440.7,852.1 L439.5,852.0 L438.2,851.9 L437.0,851.6 L435.6,851.2 L434.3,850.8 L433.0,850.3 L431.7,849.8 L430.3,849.2 L429.0,848.7 L427.6,848.1 L426.3,847.6 L424.9,847.0 L423.5,846.4 L422.2,845.8 L420.8,845.2 L419.5,844.6 L418.2,844.0 L417.0,843.4 L415.8,842.8 L414.7,842.3 L413.7,841.7 L412.6,841.1 L411.6,840.5 L410.5,839.9 L409.4,839.3 L408.1,838.7 L406.7,838.0 L405.2,837.2 L403.5,836.4 L401.8,835.6 L400.3,834.8 L398.8,834.1 L397.6,833.5 L396.7,833.1Z" fill="#3f8a45"/>
<path d="M398.0,837.9 L398.4,838.7 L398.8,839.8 L399.4,841.1 L400.0,842.5 L400.7,844.0 L401.4,845.5 L402.2,846.8 L403.0,848.0 L404.0,849.0 L405.1,849.8 L406.2,850.6 L407.4,851.3 L408.4,851.9 L409.4,852.5 L410.2,852.9 L410.8,853.2 L411.2,852.8 L410.6,852.3 L409.9,851.7 L409.0,851.1 L408.0,850.3 L407.1,849.5 L406.1,848.6 L405.3,847.7 L404.6,846.8 L403.9,845.8 L403.2,844.5 L402.6,843.1 L401.9,841.7 L401.3,840.3 L400.8,839.0 L400.4,837.9 L400.0,837.1Z" fill="#3f8a45"/>
<path d="M400.1,819.4 L400.8,819.4 L401.8,819.2 L402.9,819.1 L404.2,819.0 L405.6,818.8 L406.9,818.6 L408.2,818.5 L409.3,818.3 L410.3,818.1 L411.4,817.9 L412.5,817.7 L413.5,817.5 L414.5,817.4 L415.4,817.2 L416.1,817.1 L416.6,816.9 L416.6,816.5 L416.0,816.5 L415.3,816.5 L414.4,816.6 L413.4,816.6 L412.4,816.7 L411.3,816.7 L410.2,816.8 L409.1,816.9 L408.0,817.0 L406.7,817.2 L405.4,817.4 L404.0,817.6 L402.8,817.7 L401.6,817.9 L400.6,818.1 L399.9,818.2Z" fill="#3f8a45"/>
<path d="M401.5,822.6 L402.3,822.6 L403.3,822.6 L404.5,822.6 L405.8,822.6 L407.2,822.6 L408.6,822.6 L409.8,822.6 L410.9,822.7 L411.9,822.8 L412.9,823.0 L413.9,823.2 L414.8,823.4 L415.7,823.7 L416.5,823.9 L417.3,824.2 L418.0,824.4 L418.6,824.7 L419.2,825.1 L419.7,825.4 L420.3,825.8 L420.8,826.1 L421.2,826.5 L421.5,826.8 L421.8,827.0 L422.2,826.6 L421.9,826.4 L421.6,826.0 L421.3,825.6 L420.8,825.2 L420.3,824.7 L419.8,824.2 L419.1,823.7 L418.4,823.4 L417.7,823.0 L416.9,822.7 L416.0,822.4 L415.1,822.1 L414.2,821.9 L413.2,821.6 L412.1,821.5 L411.1,821.3 L409.9,821.2 L408.6,821.2 L407.2,821.2 L405.8,821.2 L404.4,821.2 L403.2,821.3 L402.2,821.3 L401.5,821.4Z" fill="#3f8a45"/>
<path d="M399.4,834.5 L400.1,834.6 L401.2,834.7 L402.4,834.9 L403.8,835.1 L405.2,835.3 L406.6,835.4 L408.0,835.5 L409.2,835.5 L410.2,835.5 L411.2,835.5 L412.2,835.4 L413.1,835.3 L413.9,835.2 L414.8,835.0 L415.7,834.8 L416.6,834.6 L417.6,834.3 L418.5,833.9 L419.4,833.5 L420.3,833.1 L421.2,832.7 L422.1,832.4 L422.9,832.0 L423.7,831.8 L424.6,831.6 L425.7,831.4 L426.7,831.3 L427.8,831.2 L428.8,831.2 L429.7,831.1 L430.4,831.1 L431.0,831.0 L431.0,830.6 L430.4,830.5 L429.7,830.5 L428.8,830.4 L427.7,830.3 L426.7,830.3 L425.6,830.2 L424.5,830.3 L423.5,830.4 L422.5,830.6 L421.5,830.9 L420.6,831.3 L419.7,831.7 L418.8,832.1 L417.9,832.5 L417.0,832.8 L416.2,833.0 L415.3,833.2 L414.5,833.4 L413.7,833.5 L412.8,833.7 L412.0,833.8 L411.1,833.8 L410.2,833.9 L409.2,833.9 L408.1,833.8 L406.8,833.7 L405.4,833.5 L404.0,833.3 L402.7,833.1 L401.4,833.0 L400.4,832.8 L399.6,832.7Z" fill="#3f8a45"/>
<path d="M383.3,402.5 L378.7,398.1 L378.3,395.8 L372.8,393.7 L371.7,391.7 L365.8,391.0 L364.2,389.4 L357.3,390.6 L355.0,389.5 L347.8,392.4 L345.0,392.0 L338.7,397.1 L335.8,397.5 L332.8,401.5 L330.8,401.7 L330.1,405.6 L328.6,406.2 L327.5,407.5 L326.2,411.2 L324.6,411.6 L323.3,413.3 L321.8,418.8 L320.0,420.0 L319.2,425.4 L317.5,426.7 L317.3,431.9 L315.8,433.3 L317.7,436.2 L316.9,437.5 L317.5,441.4 L316.3,442.5 L321.3,440.2 L323.3,440.8 L329.3,437.9 L331.7,438.3 L336.3,435.4 L338.3,435.8 L342.3,432.7 L344.2,433.0 L345.9,429.9 L347.5,430.0 L351.5,427.7 L353.3,428.3 L356.4,424.9 L358.3,425.0 L360.0,422.5 L363.9,419.6 L365.8,420.0 L367.7,417.2 L369.2,417.5 L370.0,415.0 L373.4,412.7 L375.0,413.3 L376.7,410.0 L378.3,410.0 L379.2,407.5 L381.0,404.7 L382.5,405.0Z" fill="#6aa956" stroke="#6aa956" stroke-width="1" stroke-linejoin="round"/>
<path d="M388.3,422.5 L382.3,424.9 L380.0,424.2 L376.2,427.6 L374.2,427.5 L372.5,431.3 L370.8,431.7 L370.6,434.7 L369.2,435.0 L370.0,437.5 L369.1,441.2 L367.5,441.7 L367.2,445.2 L365.8,445.8 L365.6,448.8 L364.2,449.2 L367.2,450.2 L367.3,451.7 L367.8,455.0 L366.5,455.8 L368.7,460.0 L368.0,461.7 L371.0,464.2 L370.8,465.8 L373.6,467.7 L373.3,469.2 L376.1,471.7 L375.8,473.3 L379.2,475.8 L379.2,477.5 L383.1,480.6 L383.3,482.5 L387.8,485.5 L388.3,487.5 L391.4,484.1 L393.3,484.2 L396.3,480.2 L398.3,480.0 L400.7,476.1 L402.5,475.8 L403.4,472.2 L405.0,471.7 L405.9,467.5 L407.5,466.7 L407.8,463.1 L409.2,462.5 L410.3,459.8 L411.7,460.0 L411.2,456.1 L412.5,455.0 L412.0,451.6 L413.3,450.8 L414.2,447.2 L415.8,446.7 L414.1,443.1 L415.0,441.7 L412.2,439.1 L412.5,437.5 L409.6,434.2 L410.0,432.5 L406.7,430.0 L406.7,428.3 L402.3,426.7 L401.7,425.0 L396.9,424.5 L395.8,423.0 L390.1,423.7Z" fill="#6aa956" stroke="#6aa956" stroke-width="1" stroke-linejoin="round"/>
<path d="M267.0,537.5 L270.9,536.1 L271.7,534.7 L274.9,535.1 L275.8,534.2 L286.6,533.3 L290.0,532.0 L299.5,531.9 L302.5,530.8 L307.2,529.7 L308.3,528.3 L311.5,528.9 L312.5,528.0 L315.2,530.8 L316.7,530.8 L318.7,533.3 L320.0,533.3 L321.9,536.4 L323.3,536.7 L324.5,539.7 L325.8,540.0 L326.7,543.5 L328.0,544.2 L327.5,547.5 L324.9,550.2 L325.0,551.7 L322.0,553.6 L321.7,555.0 L317.6,556.2 L316.7,557.5 L312.2,557.3 L310.8,558.3 L306.6,556.9 L305.0,557.5 L303.0,555.0 L301.7,555.0 L297.8,554.8 L296.7,555.8 L293.9,553.5 L292.5,553.7 L291.2,551.0 L290.0,550.8 L286.4,549.4 L285.0,550.0 L281.6,547.4 L280.0,547.5 L278.8,544.5 L277.5,544.2 L274.7,542.2 L273.3,542.5 L272.0,540.1 L270.8,540.0 L268.4,537.5Z" fill="#6aa956" stroke="#6aa956" stroke-width="1" stroke-linejoin="round"/>
<path d="M442.4,630.8 L446.4,629.5 L446.9,627.8 L451.8,627.8 L453.1,626.3 L457.6,627.7 L459.2,626.6 L462.8,627.3 L463.8,625.9 L466.7,628.4 L468.3,627.8 L469.9,630.8 L472.7,633.6 L474.4,633.1 L476.5,636.8 L478.3,636.9 L479.0,640.4 L480.6,640.8 L481.4,643.8 L482.9,643.8 L481.1,646.4 L482.1,647.6 L483.3,651.7 L485.1,652.2 L485.8,656.2 L487.4,656.8 L486.8,660.5 L488.2,661.4 L488.9,665.4 L490.5,666.0 L488.7,669.2 L489.7,670.6 L490.0,674.4 L491.6,675.1 L488.6,678.0 L489.0,679.7 L486.6,683.4 L487.4,685.1 L485.1,687.4 L481.9,685.6 L480.6,686.6 L476.1,684.8 L474.4,685.8 L470.1,683.5 L468.3,684.3 L465.5,681.5 L463.8,682.0 L461.0,678.7 L459.2,679.0 L456.3,676.2 L454.6,676.7 L451.5,674.4 L450.0,675.1 L447.1,672.4 L445.4,672.9 L442.6,669.6 L440.8,669.8 L438.7,666.5 L437.0,666.7 L435.7,663.1 L434.0,662.9 L433.3,658.9 L431.7,658.3 L431.9,654.0 L430.4,653.0 L431.6,649.0 L430.4,647.6 L432.5,644.6 L431.7,643.1 L434.5,640.2 L434.0,638.5 L437.7,636.5 L437.8,634.7 L442.0,632.7Z" fill="#6aa956" stroke="#6aa956" stroke-width="1" stroke-linejoin="round"/>
<path d="M235.4,745.1 L239.4,740.5 L239.7,738.3 L243.3,735.3 L243.6,733.5 L247.2,730.4 L247.4,728.6 L251.0,726.3 L251.3,724.7 L254.9,721.7 L255.2,719.9 L260.8,717.0 L262.0,715.0 L268.2,714.2 L270.0,712.8 L277.8,713.9 L280.5,713.1 L284.6,715.4 L286.3,715.0 L290.7,715.9 L292.2,715.0 L295.3,717.9 L297.0,717.9 L297.7,721.2 L299.0,721.8 L297.7,725.4 L298.4,726.7 L295.9,729.9 L296.1,731.5 L293.1,733.9 L293.1,735.4 L290.2,736.1 L289.8,737.4 L286.6,738.9 L286.3,740.3 L282.5,740.1 L281.5,741.2 L278.0,742.7 L277.6,744.2 L273.2,743.0 L271.7,743.8 L267.7,745.0 L266.9,746.5 L263.4,745.0 L262.0,745.7 L258.0,746.7 L257.2,748.1 L252.9,746.5 L251.3,747.1 L248.8,744.8 L247.4,745.1 L242.9,745.0 L241.6,746.1 L237.1,744.5Z" fill="#6aa956" stroke="#6aa956" stroke-width="1" stroke-linejoin="round"/>
<path d="M378.3,523.1 L378.6,522.1 L379.1,520.8 L379.6,519.3 L380.3,517.6 L380.9,515.9 L381.7,514.1 L382.5,512.4 L383.3,510.9 L384.3,509.4 L385.3,507.9 L386.4,506.4 L387.6,504.9 L388.8,503.4 L390.1,501.9 L391.5,500.3 L392.9,498.8 L394.3,497.3 L395.8,495.9 L397.3,494.4 L398.9,492.9 L400.6,491.4 L402.2,489.9 L403.9,488.4 L405.7,486.7 L407.4,485.1 L409.2,483.4 L411.1,481.7 L413.0,479.9 L414.8,478.2 L416.8,476.4 L418.7,474.5 L420.6,472.6 L422.6,470.7 L424.6,468.8 L426.5,466.8 L428.6,464.7 L430.6,462.7 L432.6,460.7 L434.6,458.6 L436.6,456.6 L438.6,454.6 L440.7,452.5 L442.9,450.3 L445.0,448.2 L447.0,446.1 L449.0,444.2 L450.9,442.3 L452.6,440.6 L454.2,439.0 L455.7,437.4 L457.2,435.9 L458.5,434.5 L459.8,433.3 L460.9,432.2 L461.8,431.3 L462.5,430.5 L461.5,429.5 L460.7,430.2 L459.8,431.1 L458.7,432.2 L457.5,433.5 L456.1,434.8 L454.6,436.3 L453.0,437.8 L451.4,439.4 L449.7,441.1 L447.8,443.0 L445.9,445.0 L443.8,447.0 L441.7,449.1 L439.5,451.3 L437.4,453.4 L435.4,455.4 L433.4,457.4 L431.4,459.4 L429.3,461.5 L427.3,463.5 L425.3,465.5 L423.3,467.5 L421.3,469.5 L419.4,471.4 L417.4,473.2 L415.5,475.0 L413.6,476.8 L411.7,478.6 L409.8,480.3 L407.9,482.0 L406.1,483.6 L404.3,485.3 L402.6,486.8 L400.8,488.4 L399.1,489.9 L397.5,491.3 L395.8,492.8 L394.2,494.2 L392.6,495.7 L391.1,497.2 L389.7,498.7 L388.3,500.1 L386.9,501.6 L385.5,503.1 L384.2,504.6 L383.0,506.1 L381.8,507.6 L380.7,509.1 L379.6,510.7 L378.5,512.4 L377.5,514.2 L376.5,515.9 L375.6,517.5 L374.9,518.9 L374.2,520.1 L373.7,520.9Z" fill="#4f7f52"/>
<path d="M476.4,421.5 L477.0,421.0 L477.8,420.4 L478.7,419.7 L479.8,419.0 L480.9,418.2 L482.1,417.4 L483.2,416.8 L484.3,416.2 L485.4,415.8 L486.6,415.4 L487.8,415.0 L489.0,414.7 L490.3,414.4 L491.5,414.2 L492.8,414.0 L494.1,413.9 L495.3,413.8 L496.6,413.8 L497.8,413.9 L499.1,414.0 L500.4,414.2 L501.8,414.4 L503.3,414.6 L504.8,414.9 L506.5,415.2 L508.3,415.6 L510.1,416.1 L512.0,416.5 L514.0,417.1 L515.9,417.6 L517.9,418.2 L519.8,418.8 L521.6,419.4 L523.5,420.0 L525.4,420.6 L527.2,421.3 L529.1,422.0 L531.0,422.7 L532.9,423.4 L534.8,424.1 L536.6,424.9 L538.6,425.6 L540.5,426.5 L542.4,427.3 L544.3,428.1 L546.2,428.9 L548.0,429.7 L549.8,430.4 L551.7,431.1 L553.6,431.8 L555.5,432.5 L557.3,433.2 L559.1,433.8 L560.6,434.3 L561.9,434.8 L562.9,435.1 L563.1,434.9 L562.1,434.5 L560.8,433.9 L559.3,433.3 L557.5,432.6 L555.7,431.9 L553.8,431.1 L552.0,430.3 L550.2,429.6 L548.4,428.8 L546.6,428.0 L544.7,427.1 L542.9,426.3 L540.9,425.4 L539.0,424.5 L537.1,423.7 L535.2,422.9 L533.4,422.1 L531.5,421.4 L529.6,420.6 L527.8,419.9 L525.9,419.2 L524.0,418.5 L522.1,417.9 L520.2,417.2 L518.3,416.6 L516.4,416.0 L514.4,415.4 L512.5,414.9 L510.5,414.4 L508.7,413.9 L506.9,413.5 L505.2,413.1 L503.6,412.8 L502.1,412.6 L500.7,412.3 L499.3,412.2 L497.9,412.1 L496.6,412.0 L495.3,412.0 L493.9,412.1 L492.6,412.2 L491.2,412.4 L489.9,412.7 L488.6,413.0 L487.3,413.4 L486.1,413.8 L484.8,414.3 L483.7,414.8 L482.5,415.4 L481.3,416.2 L480.1,417.0 L479.0,417.9 L477.9,418.7 L477.0,419.4 L476.2,420.1 L475.6,420.5Z" fill="#4f7f52"/>
<path d="M363.8,580.0 L363.5,579.8 L363.1,579.6 L362.7,579.3 L362.2,579.0 L361.7,578.6 L361.2,578.1 L360.6,577.6 L359.9,577.0 L359.3,576.2 L358.5,575.4 L357.8,574.4 L356.9,573.4 L356.0,572.3 L355.1,571.1 L354.1,570.0 L353.0,568.8 L351.9,567.6 L350.8,566.5 L349.6,565.3 L348.3,564.0 L347.0,562.8 L345.7,561.5 L344.3,560.2 L342.8,558.8 L341.3,557.4 L339.6,555.8 L337.9,554.1 L336.1,552.5 L334.3,550.8 L332.5,549.2 L330.8,547.8 L329.2,546.4 L327.8,545.3 L326.4,544.2 L325.1,543.2 L323.9,542.3 L322.6,541.4 L321.3,540.6 L320.0,539.8 L318.5,539.0 L316.9,538.3 L315.2,537.6 L313.5,536.9 L311.7,536.3 L310.0,535.7 L308.3,535.2 L306.7,534.7 L305.2,534.3 L303.8,533.9 L302.4,533.6 L301.1,533.4 L299.8,533.1 L298.6,533.0 L297.6,532.8 L296.7,532.7 L296.1,532.6 L295.9,533.4 L296.6,533.6 L297.4,533.7 L298.4,534.0 L299.6,534.2 L300.8,534.5 L302.1,534.9 L303.4,535.3 L304.8,535.7 L306.2,536.2 L307.8,536.8 L309.4,537.4 L311.1,538.0 L312.8,538.7 L314.4,539.4 L316.0,540.2 L317.5,541.0 L318.8,541.8 L320.1,542.6 L321.2,543.4 L322.4,544.3 L323.5,545.2 L324.7,546.2 L326.0,547.4 L327.4,548.6 L328.9,549.9 L330.5,551.4 L332.2,553.0 L334.0,554.7 L335.7,556.4 L337.4,558.1 L339.0,559.7 L340.6,561.2 L342.0,562.6 L343.3,563.9 L344.7,565.2 L345.9,566.5 L347.1,567.7 L348.3,568.9 L349.3,570.1 L350.4,571.2 L351.3,572.3 L352.2,573.5 L353.1,574.6 L353.9,575.7 L354.7,576.8 L355.4,577.8 L356.1,578.7 L356.7,579.6 L357.2,580.4 L357.7,581.1 L358.1,581.8 L358.4,582.4 L358.7,582.9 L358.9,583.3 L359.1,583.7 L359.2,584.0Z" fill="#437b3f"/>
<path d="M368.3,658.5 L368.6,657.9 L369.0,657.2 L369.4,656.3 L369.9,655.3 L370.4,654.3 L371.0,653.3 L371.7,652.3 L372.4,651.3 L373.3,650.3 L374.2,649.2 L375.2,648.2 L376.4,647.1 L377.5,646.0 L378.7,644.9 L379.9,643.8 L381.0,642.7 L382.2,641.7 L383.5,640.6 L384.9,639.5 L386.2,638.4 L387.5,637.4 L388.8,636.4 L389.9,635.5 L390.9,634.7 L391.8,634.0 L392.5,633.4 L393.1,632.9 L393.7,632.5 L394.2,632.0 L394.7,631.6 L395.3,631.1 L395.9,630.6 L396.6,630.0 L397.3,629.4 L398.0,628.7 L398.8,628.1 L399.5,627.4 L400.3,626.8 L401.0,626.1 L401.8,625.5 L402.6,624.8 L403.5,624.1 L404.3,623.3 L405.2,622.6 L406.1,621.9 L406.8,621.2 L407.5,620.7 L407.9,620.3 L406.5,618.5 L406.0,618.9 L405.3,619.4 L404.6,620.0 L403.7,620.7 L402.8,621.4 L401.9,622.2 L401.0,622.9 L400.2,623.5 L399.4,624.2 L398.6,624.8 L397.9,625.4 L397.1,626.1 L396.3,626.7 L395.6,627.3 L394.8,627.9 L394.1,628.4 L393.5,628.9 L392.9,629.4 L392.4,629.8 L391.8,630.2 L391.3,630.6 L390.7,631.1 L389.9,631.7 L389.1,632.3 L388.0,633.1 L386.9,634.0 L385.6,635.0 L384.3,636.0 L382.9,637.1 L381.6,638.2 L380.2,639.2 L379.0,640.3 L377.7,641.3 L376.5,642.4 L375.2,643.5 L374.0,644.6 L372.8,645.6 L371.7,646.7 L370.6,647.7 L369.6,648.7 L368.6,649.7 L367.7,650.8 L366.8,651.8 L366.0,652.7 L365.3,653.6 L364.6,654.4 L364.1,655.0 L363.7,655.5Z" fill="#437b3f"/>
<path d="M392.3,633.6 L392.9,633.4 L393.7,633.3 L394.6,633.1 L395.6,632.9 L396.7,632.6 L397.9,632.4 L399.0,632.2 L400.2,632.0 L401.3,631.9 L402.4,631.7 L403.6,631.6 L404.8,631.5 L406.1,631.4 L407.4,631.3 L408.8,631.2 L410.3,631.2 L412.0,631.2 L413.8,631.2 L415.8,631.2 L417.8,631.3 L419.8,631.3 L421.8,631.4 L423.7,631.5 L425.5,631.6 L427.2,631.8 L428.8,632.0 L430.4,632.2 L431.9,632.4 L433.4,632.6 L434.8,632.9 L436.2,633.1 L437.5,633.5 L438.8,633.8 L440.0,634.2 L441.3,634.7 L442.4,635.2 L443.5,635.6 L444.6,636.1 L445.6,636.6 L446.5,637.1 L447.3,637.5 L448.1,638.0 L448.8,638.5 L449.5,639.0 L450.1,639.5 L450.7,639.9 L451.1,640.3 L451.5,640.6 L452.5,639.4 L452.1,639.1 L451.7,638.7 L451.2,638.2 L450.6,637.7 L450.0,637.1 L449.2,636.5 L448.4,635.9 L447.5,635.3 L446.5,634.8 L445.5,634.3 L444.4,633.7 L443.3,633.2 L442.0,632.7 L440.8,632.2 L439.4,631.7 L438.1,631.3 L436.7,631.0 L435.3,630.7 L433.8,630.4 L432.2,630.1 L430.7,629.9 L429.1,629.7 L427.4,629.5 L425.7,629.4 L423.9,629.2 L421.9,629.1 L419.9,629.0 L417.9,628.9 L415.8,628.8 L413.9,628.8 L412.0,628.8 L410.3,628.8 L408.7,628.8 L407.3,628.9 L405.9,629.0 L404.6,629.1 L403.3,629.2 L402.2,629.3 L401.0,629.4 L399.8,629.6 L398.6,629.7 L397.4,629.9 L396.2,630.1 L395.1,630.3 L394.0,630.6 L393.1,630.8 L392.3,630.9 L391.7,631.0Z" fill="#437b3f"/>
<path d="M364.6,763.5 L364.4,763.2 L364.1,763.0 L363.9,762.8 L363.6,762.6 L363.3,762.3 L363.0,761.9 L362.7,761.4 L362.3,760.8 L361.9,760.0 L361.5,759.0 L361.0,757.8 L360.5,756.6 L360.0,755.2 L359.4,753.8 L358.8,752.4 L358.2,751.0 L357.6,749.7 L356.9,748.3 L356.2,746.8 L355.5,745.3 L354.7,743.8 L353.9,742.3 L353.1,740.8 L352.2,739.3 L351.3,737.8 L350.3,736.3 L349.3,734.7 L348.2,733.2 L347.2,731.7 L346.1,730.3 L345.1,728.9 L344.2,727.5 L343.2,726.2 L342.2,724.9 L341.1,723.7 L340.1,722.5 L339.2,721.4 L338.4,720.4 L337.7,719.5 L337.2,718.9 L334.6,720.9 L335.2,721.6 L335.8,722.4 L336.6,723.4 L337.5,724.6 L338.4,725.8 L339.4,727.1 L340.3,728.4 L341.2,729.7 L342.2,731.0 L343.1,732.4 L344.1,733.8 L345.1,735.3 L346.1,736.9 L347.0,738.4 L347.9,739.9 L348.8,741.3 L349.6,742.7 L350.3,744.2 L351.1,745.7 L351.8,747.1 L352.5,748.6 L353.2,750.0 L353.8,751.4 L354.4,752.8 L354.9,754.1 L355.5,755.4 L356.0,756.8 L356.5,758.1 L356.9,759.4 L357.4,760.5 L357.7,761.6 L358.1,762.6 L358.4,763.5 L358.7,764.2 L358.9,764.8 L359.1,765.3 L359.2,765.8 L359.3,766.1 L359.4,766.3 L359.4,766.5Z" fill="#437b3f"/>
<path d="M336.8,719.7 L335.9,719.9 L334.7,720.1 L333.3,720.3 L331.7,720.6 L330.0,720.9 L328.3,721.1 L326.6,721.3 L324.9,721.5 L323.3,721.6 L321.5,721.7 L319.7,721.8 L317.8,721.8 L316.0,721.8 L314.2,721.8 L312.6,721.7 L311.1,721.6 L309.8,721.4 L308.6,721.2 L307.5,720.9 L306.5,720.5 L305.4,720.2 L304.4,719.8 L303.3,719.4 L302.1,719.1 L300.9,718.8 L299.7,718.5 L298.5,718.2 L297.3,717.9 L296.1,717.7 L294.8,717.5 L293.5,717.3 L292.2,717.2 L290.8,717.2 L289.3,717.3 L287.7,717.5 L286.2,717.7 L284.7,717.9 L283.4,718.1 L282.3,718.3 L281.4,718.4 L281.6,719.4 L282.4,719.3 L283.5,719.2 L284.8,719.0 L286.3,718.9 L287.9,718.7 L289.4,718.6 L290.9,718.6 L292.2,718.6 L293.4,718.7 L294.6,718.9 L295.8,719.1 L297.0,719.4 L298.2,719.7 L299.3,720.0 L300.5,720.4 L301.7,720.7 L302.8,721.0 L303.8,721.4 L304.8,721.8 L305.9,722.2 L307.0,722.6 L308.1,723.0 L309.4,723.3 L310.9,723.6 L312.5,723.8 L314.2,723.9 L316.0,723.9 L317.8,723.9 L319.7,723.9 L321.6,723.8 L323.4,723.8 L325.1,723.7 L326.8,723.6 L328.6,723.4 L330.3,723.2 L332.1,723.0 L333.7,722.8 L335.1,722.6 L336.3,722.4 L337.2,722.3Z" fill="#437b3f"/>
<defs><linearGradient id="sg" gradientUnits="userSpaceOnUse" x1="0" y1="735" x2="0" y2="795"><stop offset="0" stop-color="#437b3f"/><stop offset="1" stop-color="#3f8a45"/></linearGradient></defs>
<path d="M370.4,806.0 L370.4,804.1 L370.4,801.7 L370.4,798.8 L370.4,795.5 L370.3,791.9 L370.3,788.1 L370.3,784.1 L370.3,780.0 L370.3,775.7 L370.3,771.0 L370.3,766.0 L370.3,760.9 L370.2,755.6 L370.2,750.3 L370.2,745.1 L370.2,740.0 L370.2,735.0 L370.2,730.0 L370.1,725.0 L370.1,720.0 L370.1,715.0 L370.1,710.0 L370.1,705.0 L370.0,700.0 L370.0,695.0 L370.0,690.0 L370.0,685.0 L370.0,680.0 L369.9,675.0 L369.9,670.0 L369.9,665.0 L369.8,660.0 L369.8,654.9 L369.8,649.7 L369.7,644.4 L369.6,639.2 L369.6,634.1 L369.5,629.1 L369.4,624.4 L369.3,619.9 L369.3,615.7 L369.1,611.7 L369.0,607.9 L368.9,604.2 L368.8,600.8 L368.7,597.6 L368.6,594.6 L368.5,591.9 L368.4,589.4 L368.3,587.3 L368.3,585.5 L368.2,583.9 L368.2,582.5 L368.1,581.1 L368.1,579.7 L368.2,578.2 L368.3,576.6 L368.4,575.1 L368.6,573.6 L368.7,572.0 L368.9,570.5 L369.2,568.9 L369.4,567.3 L369.6,565.7 L369.9,564.2 L370.2,562.6 L370.5,561.1 L370.8,559.5 L371.1,557.9 L371.4,556.3 L371.8,554.6 L372.1,552.9 L372.4,551.3 L372.8,549.7 L373.1,548.2 L373.4,546.6 L373.8,544.9 L374.1,543.1 L374.5,541.2 L375.0,539.0 L375.5,536.5 L376.1,533.8 L376.6,530.8 L377.3,527.8 L377.9,524.7 L378.5,521.7 L379.1,518.8 L379.7,516.0 L380.2,513.3 L380.8,510.7 L381.4,508.1 L381.9,505.5 L382.5,503.0 L383.0,500.5 L383.5,498.1 L384.0,495.9 L384.5,493.7 L384.9,491.7 L385.3,489.7 L385.7,487.9 L386.1,486.0 L386.5,484.3 L386.9,482.5 L387.2,480.7 L387.6,479.0 L387.9,477.3 L388.2,475.6 L388.5,474.0 L388.8,472.3 L389.1,470.7 L389.4,469.0 L389.7,467.2 L389.9,465.4 L390.2,463.5 L390.5,461.6 L390.8,459.7 L391.1,457.7 L391.3,455.8 L391.6,453.9 L391.8,452.1 L392.0,450.3 L392.2,448.6 L392.4,446.9 L392.6,445.3 L392.7,443.6 L392.8,442.0 L393.0,440.3 L393.1,438.5 L393.2,436.7 L393.3,434.7 L393.4,432.7 L393.5,430.7 L393.6,428.7 L393.7,426.8 L393.7,425.0 L393.6,423.3 L393.6,421.7 L393.5,420.3 L393.3,418.9 L393.1,417.6 L392.9,416.4 L392.6,415.2 L392.4,414.0 L392.0,412.8 L391.7,411.7 L391.3,410.5 L390.9,409.3 L390.4,408.2 L389.9,407.1 L389.4,406.0 L388.8,405.0 L388.1,404.0 L387.3,403.1 L386.5,402.2 L385.6,401.3 L384.7,400.5 L383.8,399.8 L382.8,399.1 L381.8,398.4 L380.8,397.8 L379.8,397.3 L378.8,396.7 L377.7,396.2 L376.6,395.8 L375.5,395.4 L374.4,395.0 L373.2,394.7 L372.0,394.4 L370.8,394.1 L369.5,394.0 L368.2,393.8 L366.9,393.7 L365.6,393.7 L364.3,393.6 L363.2,393.6 L362.1,393.6 L361.0,393.5 L359.9,393.5 L358.9,393.6 L357.9,393.6 L357.0,393.7 L356.2,393.7 L355.5,393.8 L355.0,393.8 L355.0,395.8 L355.5,395.8 L356.2,395.8 L357.0,395.8 L357.9,395.8 L358.9,395.9 L359.9,395.9 L360.9,396.0 L361.9,396.0 L363.0,396.1 L364.2,396.2 L365.4,396.3 L366.7,396.4 L367.9,396.6 L369.1,396.7 L370.3,397.0 L371.4,397.2 L372.4,397.5 L373.5,397.8 L374.5,398.2 L375.5,398.6 L376.4,399.1 L377.4,399.5 L378.3,400.0 L379.2,400.6 L380.0,401.1 L380.9,401.8 L381.8,402.4 L382.6,403.1 L383.4,403.8 L384.1,404.5 L384.7,405.2 L385.3,406.0 L385.9,406.8 L386.4,407.7 L386.8,408.6 L387.2,409.6 L387.6,410.6 L387.9,411.6 L388.3,412.7 L388.6,413.8 L388.8,414.9 L389.1,415.9 L389.3,417.0 L389.4,418.2 L389.6,419.3 L389.7,420.6 L389.7,421.9 L389.8,423.3 L389.7,424.9 L389.6,426.7 L389.5,428.5 L389.3,430.4 L389.1,432.4 L388.9,434.4 L388.7,436.3 L388.5,438.1 L388.3,439.8 L388.1,441.5 L387.9,443.1 L387.6,444.7 L387.4,446.3 L387.1,447.9 L386.9,449.6 L386.6,451.3 L386.3,453.1 L385.9,455.0 L385.6,456.8 L385.2,458.7 L384.9,460.6 L384.5,462.5 L384.1,464.4 L383.7,466.2 L383.4,467.9 L383.0,469.5 L382.7,471.1 L382.3,472.7 L382.0,474.3 L381.6,475.9 L381.2,477.6 L380.8,479.3 L380.4,481.0 L379.9,482.8 L379.5,484.5 L379.1,486.3 L378.6,488.1 L378.1,490.0 L377.6,492.0 L377.0,494.1 L376.4,496.3 L375.7,498.7 L375.0,501.0 L374.3,503.5 L373.5,506.1 L372.8,508.7 L372.0,511.3 L371.3,514.0 L370.6,516.8 L369.9,519.8 L369.2,522.9 L368.5,525.9 L367.8,529.0 L367.2,531.9 L366.6,534.6 L366.0,537.0 L365.5,539.2 L365.1,541.2 L364.7,543.0 L364.3,544.6 L363.9,546.2 L363.6,547.8 L363.2,549.4 L362.9,551.1 L362.5,552.7 L362.2,554.4 L361.9,556.0 L361.5,557.6 L361.2,559.3 L360.9,560.9 L360.6,562.6 L360.4,564.3 L360.1,565.9 L359.9,567.6 L359.6,569.2 L359.4,570.9 L359.2,572.5 L359.0,574.3 L358.9,576.0 L358.8,577.8 L358.7,579.5 L358.7,581.1 L358.8,582.7 L358.8,584.2 L358.9,585.9 L359.0,587.7 L359.0,589.7 L359.1,592.1 L359.2,594.9 L359.3,597.9 L359.4,601.1 L359.5,604.5 L359.6,608.1 L359.7,612.0 L359.8,615.9 L359.9,620.1 L359.9,624.5 L360.0,629.2 L360.0,634.2 L360.0,639.3 L360.1,644.5 L360.1,649.8 L360.1,655.0 L360.2,660.0 L360.2,665.0 L360.2,670.0 L360.2,675.0 L360.2,680.0 L360.2,685.0 L360.2,690.0 L360.2,695.0 L360.2,700.0 L360.1,705.0 L360.1,710.0 L360.1,715.0 L360.1,720.0 L360.1,725.0 L360.1,730.0 L360.0,735.0 L360.0,740.0 L360.0,745.1 L359.9,750.3 L359.9,755.6 L359.8,760.9 L359.8,766.0 L359.8,771.0 L359.7,775.7 L359.7,780.0 L359.7,784.1 L359.7,788.1 L359.6,791.9 L359.6,795.5 L359.6,798.8 L359.6,801.7 L359.6,804.1 L359.6,806.0Z" fill="url(#sg)"/>
<path d="M467.6,604.9 L462.8,602.9 L462.2,601.0 L458.2,600.4 L457.6,598.8 L452.7,598.8 L451.5,597.2 L446.9,598.4 L445.4,597.2 L442.3,596.1 L442.4,594.5 L437.7,595.2 L436.3,593.9 L431.8,595.8 L430.1,594.9 L425.7,596.7 L424.0,595.7 L421.0,598.2 L419.4,597.5 L418.0,600.5 L416.4,600.3 L414.2,603.1 L412.6,602.6 L411.1,605.7 L409.5,605.6 L408.5,608.7 L406.9,608.7 L407.2,612.5 L405.7,613.3 L407.9,615.7 L407.2,617.1 L410.4,618.5 L410.3,620.1 L414.3,620.8 L414.9,622.4 L418.7,622.5 L419.4,624.0 L423.7,623.6 L424.8,625.0 L427.8,622.5 L429.4,623.2 L432.0,621.4 L433.2,622.4 L436.3,620.1 L437.8,620.9 L440.8,621.7 L443.6,618.4 L445.4,618.6 L448.7,616.9 L450.0,617.9 L453.5,614.5 L455.4,614.8 L456.8,611.6 L458.4,611.7 L460.6,608.9 L462.2,609.4 L465.3,607.9 L466.1,604.9Z" fill="#12622d" stroke="#12622d" stroke-width="1" stroke-linejoin="round"/>
<path d="M409,618.5 Q420,612.5 436,608.5" fill="none" stroke="#4d8f52" stroke-width="1.2"/>
<path d="M335.9,719.9 L333.9,715.0 L334.0,713.1 L331.9,708.1 L332.0,706.2 L329.3,702.1 L329.1,700.4 L325.8,697.9 L325.2,696.5 L323.2,693.4 L323.3,692.1 L320.5,693.1 L319.4,692.6 L316.2,691.2 L315.5,690.1 L311.1,690.7 L309.7,690.1 L306.3,692.5 L304.8,692.6 L302.3,695.9 L300.9,696.5 L299.2,700.5 L298.0,701.4 L297.8,705.9 L297.0,707.2 L298.3,710.8 L298.0,712.1 L300.7,714.7 L300.9,716.0 L303.5,717.8 L303.8,718.9 L307.1,720.6 L307.7,721.8 L310.9,722.7 L311.6,723.7 L314.3,721.7 L315.5,721.8 L319.9,721.7 L321.3,722.4 L327.1,721.4 L329.1,721.8 L334.0,719.8Z" fill="#12622d" stroke="#12622d" stroke-width="1" stroke-linejoin="round"/>
<path d="M334.5,719.5 Q320,705 305.5,696.5" fill="none" stroke="#4d8f52" stroke-width="1.2"/>
<line x1="348.6" y1="256" x2="348.6" y2="384" stroke="#6f8f8c" stroke-width="1.3"/>
<line x1="463" y1="300" x2="463" y2="414" stroke="#6f8f8c" stroke-width="1.3"/>
<line x1="289" y1="446" x2="289" y2="518" stroke="#6f8f8c" stroke-width="1.3"/>
<line x1="461" y1="578" x2="461" y2="638" stroke="#6f8f8c" stroke-width="1.3"/>
<line x1="269.2" y1="674" x2="269.2" y2="709" stroke="#6f8f8c" stroke-width="1.3"/>
<line x1="389.7" y1="741" x2="389.7" y2="814" stroke="#6f8f8c" stroke-width="1.3"/>
<rect x="161.2" y="212.3" width="187.4" height="52.4" rx="8" ry="8" fill="#ffffff" stroke="#8aa09c" stroke-width="1.5"/>
<rect x="462.7" y="222.7" width="215.3" height="86" rx="8" ry="8" fill="#ffffff" stroke="#8aa09c" stroke-width="1.5"/>
<rect x="75" y="368.3" width="214.3" height="86.7" rx="8" ry="8" fill="#ffffff" stroke="#8aa09c" stroke-width="1.5"/>
<rect x="460.7" y="510" width="206.6" height="77.3" rx="8" ry="8" fill="#ffffff" stroke="#8aa09c" stroke-width="1.5"/>
<rect x="36.9" y="577" width="232.3" height="106" rx="8" ry="8" fill="#ffffff" stroke="#8aa09c" stroke-width="1.5"/>
<rect x="389.6" y="711.7" width="220.8" height="38.2" rx="8" ry="8" fill="#ffffff" stroke="#8aa09c" stroke-width="1.5"/>
<g opacity="0.985">
<text x="171.6" y="235.6" font-size="14.4" fill="#363636" stroke="#363636" stroke-width="0.3" textLength="156.3" lengthAdjust="spacingAndGlyphs">P has an essential role in</text>
<text x="171.6" y="253.1" font-size="14.4" fill="#363636" stroke="#363636" stroke-width="0.3" textLength="96.3" lengthAdjust="spacingAndGlyphs">photosynthesis</text>
<text x="473.6" y="245.3" font-size="14.4" fill="#363636" stroke="#363636" stroke-width="0.3" textLength="181" lengthAdjust="spacingAndGlyphs">P improves flower formation</text>
<text x="473.6" y="262.5" font-size="14.4" fill="#363636" stroke="#363636" stroke-width="0.3" textLength="159.5" lengthAdjust="spacingAndGlyphs">and seed production and</text>
<text x="473.6" y="279.7" font-size="14.4" fill="#363636" stroke="#363636" stroke-width="0.3" textLength="182" lengthAdjust="spacingAndGlyphs">promotes more uniform and</text>
<text x="473.6" y="296.9" font-size="14.4" fill="#363636" stroke="#363636" stroke-width="0.3" textLength="131" lengthAdjust="spacingAndGlyphs">earlier crop maturity</text>
<text x="82.8" y="389.8" font-size="14.4" fill="#363636" stroke="#363636" stroke-width="0.3" textLength="178.5" lengthAdjust="spacingAndGlyphs">P is an essential component</text>
<text x="82.8" y="406.9" font-size="14.4" fill="#363636" stroke="#363636" stroke-width="0.3" textLength="179.5" lengthAdjust="spacingAndGlyphs">of DNA, the genetic material</text>
<text x="82.8" y="424" font-size="14.4" fill="#363636" stroke="#363636" stroke-width="0.3" textLength="192" lengthAdjust="spacingAndGlyphs">that allows plants to grow and</text>
<text x="82.8" y="441" font-size="14.4" fill="#363636" stroke="#363636" stroke-width="0.3" textLength="66" lengthAdjust="spacingAndGlyphs">reproduce</text>
<text x="470.6" y="536.6" font-size="14.4" fill="#363636" stroke="#363636" stroke-width="0.3" textLength="161" lengthAdjust="spacingAndGlyphs">P is very important in cell</text>
<text x="470.6" y="554.1" font-size="14.4" fill="#363636" stroke="#363636" stroke-width="0.3" textLength="179.3" lengthAdjust="spacingAndGlyphs">division and development of</text>
<text x="470.6" y="571.5" font-size="14.4" fill="#363636" stroke="#363636" stroke-width="0.3" textLength="74.3" lengthAdjust="spacingAndGlyphs">new tissues</text>
<text x="48.7" y="601.4" font-size="14.4" fill="#363636" stroke="#363636" stroke-width="0.3" textLength="188.8" lengthAdjust="spacingAndGlyphs">P is a vital component of ATP,</text>
<text x="48.7" y="618.6" font-size="14.4" fill="#363636" stroke="#363636" stroke-width="0.3" textLength="158.8" lengthAdjust="spacingAndGlyphs">the main energy-transfer</text>
<text x="48.7" y="635.8" font-size="14.4" fill="#363636" stroke="#363636" stroke-width="0.3" textLength="185" lengthAdjust="spacingAndGlyphs">compound which allows cells</text>
<text x="48.7" y="653" font-size="14.4" fill="#363636" stroke="#363636" stroke-width="0.3" textLength="199.3" lengthAdjust="spacingAndGlyphs">to conserve and use the energy</text>
<text x="48.7" y="670.2" font-size="14.4" fill="#363636" stroke="#363636" stroke-width="0.3" textLength="147.6" lengthAdjust="spacingAndGlyphs">released in metabolism</text>
<text x="401.4" y="736" font-size="14.4" fill="#363636" stroke="#363636" stroke-width="0.3" textLength="195" lengthAdjust="spacingAndGlyphs">P stimulates root development</text>
</g>
<g opacity="0.99">
<defs><clipPath id="mc"><circle cx="0" cy="0" r="13.2"/></clipPath></defs>
<g transform="translate(347.8,394.6)"><circle r="13.2" fill="#fff"/><rect x="-13.5" y="5.7" width="27" height="8.5" fill="#0f5f25" clip-path="url(#mc)"/><circle r="13" fill="none" stroke="#5c8069" stroke-width="1"/><text transform="translate(0.7,2.9) scale(0.82,1)" text-anchor="middle" font-size="14.6" font-weight="400" fill="#2f4a3a" stroke="#2f4a3a" stroke-width="0.4">P</text></g>
<g transform="translate(464.5,425.7)"><circle r="13.2" fill="#fff"/><rect x="-13.5" y="5.7" width="27" height="8.5" fill="#0f5f25" clip-path="url(#mc)"/><circle r="13" fill="none" stroke="#5c8069" stroke-width="1"/><text transform="translate(0.7,2.9) scale(0.82,1)" text-anchor="middle" font-size="14.6" font-weight="400" fill="#2f4a3a" stroke="#2f4a3a" stroke-width="0.4">P</text></g>
<g transform="translate(289,530)"><circle r="13.2" fill="#fff"/><rect x="-13.5" y="5.7" width="27" height="8.5" fill="#0f5f25" clip-path="url(#mc)"/><circle r="13" fill="none" stroke="#5c8069" stroke-width="1"/><text transform="translate(0.7,2.9) scale(0.82,1)" text-anchor="middle" font-size="14.6" font-weight="400" fill="#2f4a3a" stroke="#2f4a3a" stroke-width="0.4">P</text></g>
<g transform="translate(461,648.6)"><circle r="13.2" fill="#fff"/><rect x="-13.5" y="5.7" width="27" height="8.5" fill="#0f5f25" clip-path="url(#mc)"/><circle r="13" fill="none" stroke="#5c8069" stroke-width="1"/><text transform="translate(0.7,2.9) scale(0.82,1)" text-anchor="middle" font-size="14.6" font-weight="400" fill="#2f4a3a" stroke="#2f4a3a" stroke-width="0.4">P</text></g>
<g transform="translate(268.3,720.1)"><circle r="13.2" fill="#fff"/><rect x="-13.5" y="5.7" width="27" height="8.5" fill="#0f5f25" clip-path="url(#mc)"/><circle r="13" fill="none" stroke="#5c8069" stroke-width="1"/><text transform="translate(0.7,2.9) scale(0.82,1)" text-anchor="middle" font-size="14.6" font-weight="400" fill="#2f4a3a" stroke="#2f4a3a" stroke-width="0.4">P</text></g>
<g transform="translate(388.9,824.8)"><circle r="13.2" fill="#fff"/><rect x="-13.5" y="5.7" width="27" height="8.5" fill="#0f5f25" clip-path="url(#mc)"/><circle r="13" fill="none" stroke="#5c8069" stroke-width="1"/><text transform="translate(0.7,2.9) scale(0.82,1)" text-anchor="middle" font-size="14.6" font-weight="400" fill="#2f4a3a" stroke="#2f4a3a" stroke-width="0.4">P</text></g>
<defs><clipPath id="hc"><circle cx="83.75" cy="118.75" r="39"/></clipPath></defs>
<circle cx="83.75" cy="118.75" r="39.3" fill="#fff"/>
<rect x="40" y="130" width="90" height="32" fill="#15642e" clip-path="url(#hc)"/>
<circle cx="83.75" cy="118.75" r="39.3" fill="none" stroke="#2d6a45" stroke-width="1.6"/>
<text transform="translate(83.6,121.3) scale(0.84,1)" text-anchor="middle" font-size="32.5" font-weight="700" fill="#15642e">P</text>
<text transform="translate(136,122.5) scale(0.932,1)" font-size="38.6" fill="#135f2b" stroke="#135f2b" stroke-width="1.1">PHOSPHORUS</text>
<text transform="translate(135.5,146.8) scale(1.096,1)" font-size="20.5" fill="#135f2b" stroke="#135f2b" stroke-width="0.5">The role of phosphorus in crop production</text>
</g>
</g>
</svg>
</body></html>
